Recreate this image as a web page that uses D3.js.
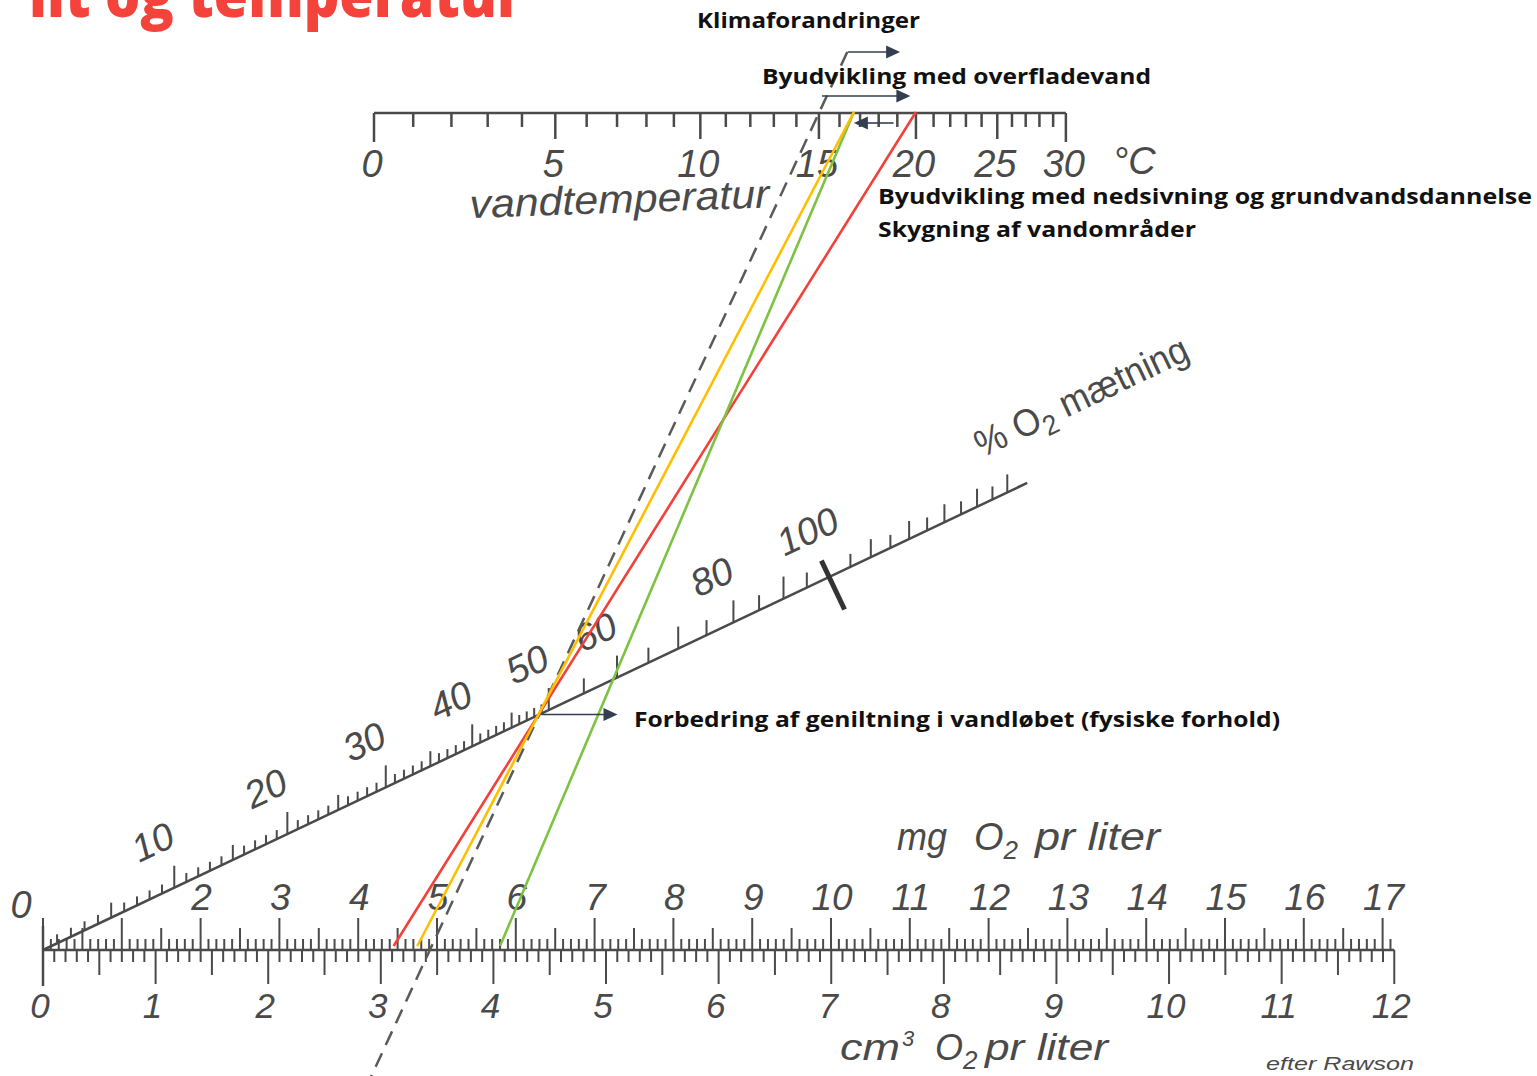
<!DOCTYPE html>
<html lang="da">
<head>
<meta charset="utf-8">
<title>Ilt og temperatur</title>
<script src="https://d3js.org/d3.v7.min.js"></script>
<style>
  body { margin: 0; background: #fff; }
  svg { display: block; }
  .scan { font-family: "Liberation Sans Narrow", "Liberation Sans", sans-serif; font-style: italic; fill: #4a4a4a; }
  .note { font-family: "Open Sans", "Noto Sans", sans-serif; font-weight: 700; fill: #111; font-size: 21px; }
</style>
</head>
<body>
<div id="chart"></div>
<script>

// oxygen solubility in water (mg/l) at 0..30 degC - this is what spaces the temperature scale
var solubility = [14.62, 14.22, 13.83, 13.46, 13.11, 12.77, 12.45, 12.14, 11.84, 11.56,
                  11.29, 11.03, 10.78, 10.54, 10.31, 10.08, 9.87, 9.66, 9.47, 9.28,
                  9.09, 8.91, 8.74, 8.58, 8.42, 8.26, 8.11, 7.97, 7.83, 7.69, 7.56]
var tempLabels = [0, 5, 10, 15, 20, 25, 30]
var mgLabels = [2, 3, 4, 5, 6, 7, 8, 9, 10, 11, 12, 13, 14, 15, 16, 17]
var cm3Labels = [0, 1, 2, 3, 4, 5, 6, 7, 8, 9, 10, 11, 12]
var satLabels = [0, 10, 20, 30, 40, 50, 60, 80, 100]

// scenario lines: water temperature (degC) at the top, mg O2 per liter at the bottom
var lineNames = ["Byudvikling med overfladevand", "Udgangspunkt", "Forbedring af geniltning"]
var lineTemp = [20, 16.7, 16.7]
var lineMg = [4.45, 4.75, 5.8]
var lineColors = ["#f2413a", "#ffbf00", "#7dc242"]

// the dashed example line from the original drawing
var exampleTemp = 15
var exampleMg = 4.91

// arrows along the temperature scale (from degC, to degC)
var arrowFrom = [16.4, 15.15, 18.8]
var arrowTo = [19.15, 19.7, 16.7]

var width = 1537
var height = 1076
var yTop = 113
var yBot = 950
var mgPerCm3 = 1.429

var svg = d3.select("#chart")
    .append("svg")
    .attr("width", width)
    .attr("height", height)

// top scale is linear in solubility, running right towards 0 mg/l
var S0 = solubility[0]
var xSol = d3.scaleLinear().domain([S0, 0]).range([374, 374 + S0 * 98])
var solAt = d3.scaleLinear().domain(d3.range(solubility.length)).range(solubility)
function xTemp(t) { return xSol(solAt(t)) }

// bottom scales
var xMg = d3.scaleLinear().domain([0, 17]).range([43, 43 + 17 * 78.8])
var xCm3 = d3.scaleLinear().domain([0, 12]).range([xMg(0), xMg(12 * mgPerCm3)])

// diagonal (Z-chart) scale for % saturation: joins 0 mg/l at the bottom and 0 mg/l at the top
var B0 = [xMg(0), yBot]
var T0 = [xSol(0), yTop]
var kb = xMg(1) - xMg(0)
var kt = xSol(0) - xSol(1)
function satPoint(p) {
    var r = kb * p / 100
    var t = r / (r + kt)
    return [B0[0] + t * (T0[0] - B0[0]), B0[1] + t * (T0[1] - B0[1])]
}
var ang = Math.atan2(T0[1] - B0[1], T0[0] - B0[0])
var angDeg = ang * 180 / Math.PI
var nrm = [Math.sin(ang), -Math.cos(ang)]   // points up-left

var ink = "#4a4a4a"

// ---------- title (cut at the top edge) ----------
svg.append("text")
    .attr("x", 29)
    .attr("y", 17)
    .attr("textLength", 494)
    .attr("lengthAdjust", "spacingAndGlyphs")
    .style("font-family", "'Open Sans', 'Noto Sans', sans-serif")
    .style("font-weight", 800)
    .style("font-size", "62px")
    .style("fill", "#f4433b")
    .text("ilt og temperatur")

// ---------- temperature scale ----------
var gTop = svg.append("g")
gTop.append("line")
    .attr("x1", xTemp(0)).attr("x2", xTemp(30))
    .attr("y1", yTop).attr("y2", yTop)
    .attr("stroke", ink).attr("stroke-width", 2.5)

gTop.selectAll(".tt")
    .data(d3.range(0, 31))
    .enter()
    .append("line")
    .attr("x1", function(d) { return xTemp(d) })
    .attr("x2", function(d) { return xTemp(d) })
    .attr("y1", yTop)
    .attr("y2", function(d) { return yTop + (d === 0 || d === 30 ? 29 : d % 5 === 0 ? 26 : 14) })
    .attr("stroke", ink).attr("stroke-width", 2.5)

gTop.selectAll(".tl")
    .data(tempLabels)
    .enter()
    .append("text")
    .attr("class", "scan")
    .attr("x", function(d) { return xTemp(d) - 2 })
    .attr("y", yTop + 64)
    .attr("text-anchor", "middle")
    .style("font-size", "38px")
    .text(function(d) { return d })

gTop.append("text")
    .attr("class", "scan")
    .attr("x", 1113).attr("y", 174)
    .style("font-size", "38px")
    .text("°C")

gTop.append("text")
    .attr("class", "scan")
    .attr("x", 470).attr("y", 218)
    .attr("transform", "rotate(-2,470,218)")
    .attr("textLength", 300)
    .attr("lengthAdjust", "spacingAndGlyphs")
    .style("font-size", "40px")
    .text("vandtemperatur")

// ---------- bottom double scale ----------
var gBot = svg.append("g")
gBot.append("line")
    .attr("x1", xCm3(0)).attr("x2", xCm3(12))
    .attr("y1", yBot).attr("y2", yBot)
    .attr("stroke", ink).attr("stroke-width", 2.5)

// mg ticks above
gBot.selectAll(".mt")
    .data(d3.range(0, 172))
    .enter()
    .append("line")
    .attr("x1", function(d) { return xMg(d / 10) })
    .attr("x2", function(d) { return xMg(d / 10) })
    .attr("y1", yBot)
    .attr("y2", function(d) { return yBot - (d % 10 === 0 ? 32 : d % 5 === 0 ? 22 : 11) })
    .attr("stroke", ink).attr("stroke-width", 2)

// cm3 ticks below
gBot.selectAll(".ct")
    .data(d3.range(0, 121))
    .enter()
    .append("line")
    .attr("x1", function(d) { return xCm3(d / 10) })
    .attr("x2", function(d) { return xCm3(d / 10) })
    .attr("y1", yBot)
    .attr("y2", function(d) { return yBot + (d % 10 === 0 ? 34 : d % 5 === 0 ? 25 : 12) })
    .attr("stroke", ink).attr("stroke-width", 2)

gBot.append("line")
    .attr("x1", xCm3(0)).attr("x2", xCm3(0))
    .attr("y1", yBot - 24).attr("y2", yBot + 36)
    .attr("stroke", ink).attr("stroke-width", 2.5)

gBot.selectAll(".ml")
    .data(mgLabels)
    .enter()
    .append("text")
    .attr("class", "scan")
    .attr("x", function(d) { return xMg(d) + 1 })
    .attr("y", 910)
    .attr("text-anchor", "middle")
    .style("font-size", "37px")
    .text(function(d) { return d })

gBot.selectAll(".cl")
    .data(cm3Labels)
    .enter()
    .append("text")
    .attr("class", "scan")
    .attr("x", function(d) { return xCm3(d) - 3 })
    .attr("y", 1018)
    .attr("text-anchor", "middle")
    .style("font-size", "35px")
    .text(function(d) { return d })

// unit texts: unit, x/width of unit, x of O2, x/width of "pr liter"
function unitLabel(y, size, unit, sup, xu, wu, xo, xp, wp) {
    gBot.append("text").attr("class", "scan").attr("x", xu).attr("y", y)
        .style("font-size", size + "px")
        .attr("textLength", wu).attr("lengthAdjust", "spacingAndGlyphs")
        .text(unit)
    if (sup) {
        gBot.append("text").attr("class", "scan").attr("x", xu + wu + 2).attr("y", y - 14)
            .style("font-size", "22px").text("3")
    }
    var o = gBot.append("text").attr("class", "scan").attr("x", xo).attr("y", y).style("font-size", size + "px")
    o.append("tspan").text("O")
    o.append("tspan").attr("dy", 9).style("font-size", "26px").text("2")
    gBot.append("text").attr("class", "scan").attr("x", xp).attr("y", y)
        .style("font-size", size + "px")
        .attr("textLength", wp).attr("lengthAdjust", "spacingAndGlyphs")
        .text("pr liter")
}
unitLabel(850, 38, "mg", false, 897, 50, 974, 1035, 125)
unitLabel(1060, 36, "cm", true, 840, 60, 935, 985, 123)

gBot.append("text")
    .attr("class", "scan")
    .attr("x", 1266).attr("y", 1070)
    .attr("textLength", 148)
    .attr("lengthAdjust", "spacingAndGlyphs")
    .style("font-size", "19px")
    .text("efter Rawson")

// ---------- saturation scale ----------
var gSat = svg.append("g")
var pEnd = satPoint(157)
gSat.append("line")
    .attr("x1", B0[0]).attr("y1", B0[1])
    .attr("x2", pEnd[0]).attr("y2", pEnd[1])
    .attr("stroke", ink).attr("stroke-width", 2.5)

var satTicks = d3.range(0, 50).concat(d3.range(50, 155, 5)).filter(function(d) { return d !== 100 })
gSat.selectAll(".st")
    .data(satTicks)
    .enter()
    .append("line")
    .attr("x1", function(d) { return satPoint(d)[0] })
    .attr("x2", function(d) { return satPoint(d)[0] })
    .attr("y1", function(d) { return satPoint(d)[1] })
    .attr("y2", function(d) {
        var len = d % 10 === 0 ? 22 : d % 5 === 0 ? 15 : 9
        if (d > 100) len = d % 10 === 0 ? 18 : 13
        return satPoint(d)[1] - len
    })
    .attr("stroke", ink).attr("stroke-width", 2)

// heavy mark at 100 %
var p100 = satPoint(100)
gSat.append("line")
    .attr("x1", p100[0] + 18 * nrm[0]).attr("y1", p100[1] + 18 * nrm[1])
    .attr("x2", p100[0] - 36 * nrm[0]).attr("y2", p100[1] - 36 * nrm[1])
    .attr("stroke", "#333").attr("stroke-width", 5)

gSat.selectAll(".sl")
    .data(satLabels)
    .enter()
    .append("text")
    .attr("class", "scan")
    .attr("transform", function(d) {
        var p = satPoint(d)
        var x = p[0] + 51 * nrm[0], y = p[1] + 51 * nrm[1]
        return "translate(" + x + "," + y + ") rotate(" + (d === 0 ? 0 : angDeg) + ")"
    })
    .attr("text-anchor", "middle")
    .attr("dy", "0.36em")
    .style("font-size", "38px")
    .text(function(d) { return d })

var sTitle = gSat.append("text")
    .attr("class", "scan")
    .attr("transform", "translate(982,458) rotate(" + angDeg + ")")
    .attr("textLength", 232)
    .attr("lengthAdjust", "spacingAndGlyphs")
    .style("font-style", "normal")
    .style("font-size", "38px")
sTitle.append("tspan").text("% O")
sTitle.append("tspan").attr("dy", 9).style("font-size", "28px").text("2")
sTitle.append("tspan").attr("dy", -9).text(" mætning")

// ---------- dashed example line, extended past both scales ----------
var ex1 = [xTemp(exampleTemp), yTop], ex2 = [xMg(exampleMg), yBot]
var slope = (ex2[0] - ex1[0]) / (ex2[1] - ex1[1])
svg.append("line")
    .attr("x1", ex1[0] + slope * (52 - yTop)).attr("y1", 52)
    .attr("x2", ex1[0] + slope * (1080 - yTop)).attr("y2", 1080)
    .attr("stroke", "#5a5a5a")
    .attr("stroke-width", 2.5)
    .attr("stroke-dasharray", "15,9")

// ---------- scenario lines ----------
var order = [0, 2, 1]
svg.selectAll(".scen")
    .data(order)
    .enter()
    .append("line")
    .attr("x1", function(i) { return xTemp(lineTemp[i]) })
    .attr("y1", yTop - 1)
    .attr("x2", function(i) { return xMg(lineMg[i]) })
    .attr("y2", yBot - 4)
    .attr("stroke", function(i) { return lineColors[i] })
    .attr("stroke-width", 2.6)
    .append("title").text(function(i) { return lineNames[i] })

// ---------- annotations ----------
var arrowColor = "#333f50"
function arrow(x1, x2, y) {
    var dir = x2 > x1 ? 1 : -1
    svg.append("line")
        .attr("x1", x1).attr("x2", x2 - dir * 12)
        .attr("y1", y).attr("y2", y)
        .attr("stroke", arrowColor).attr("stroke-width", 1.6)
    svg.append("path")
        .attr("d", "M" + x2 + "," + y + "L" + (x2 - dir * 14) + "," + (y - 6.5) + "L" + (x2 - dir * 14) + "," + (y + 6.5) + "Z")
        .attr("fill", arrowColor)
}
var arrowY = [52, 96, 123]
arrowFrom.forEach(function(t, i) { arrow(xTemp(t), xTemp(arrowTo[i]), arrowY[i]) })

// improved aeration: from the 49 % crossing towards the green line
var p49 = satPoint(49)
arrow(p49[0], p49[0] + 76, p49[1] + 1)

var notes = [
    {t: "Klimaforandringer", x: 697, y: 28, w: 223},
    {t: "Byudvikling med overfladevand", x: 762, y: 84, w: 389},
    {t: "Byudvikling med nedsivning og grundvandsdannelse", x: 878, y: 204, w: 654},
    {t: "Skygning af vandområder", x: 878, y: 237, w: 318},
    {t: "Forbedring af geniltning i vandløbet (fysiske forhold)", x: 634, y: 727, w: 646}
]
svg.selectAll(".note")
    .data(notes)
    .enter()
    .append("text")
    .attr("class", "note")
    .attr("x", function(d) { return d.x })
    .attr("y", function(d) { return d.y })
    .attr("textLength", function(d) { return d.w })
    .attr("lengthAdjust", "spacingAndGlyphs")
    .text(function(d) { return d.t })

</script>
</body>
</html>
